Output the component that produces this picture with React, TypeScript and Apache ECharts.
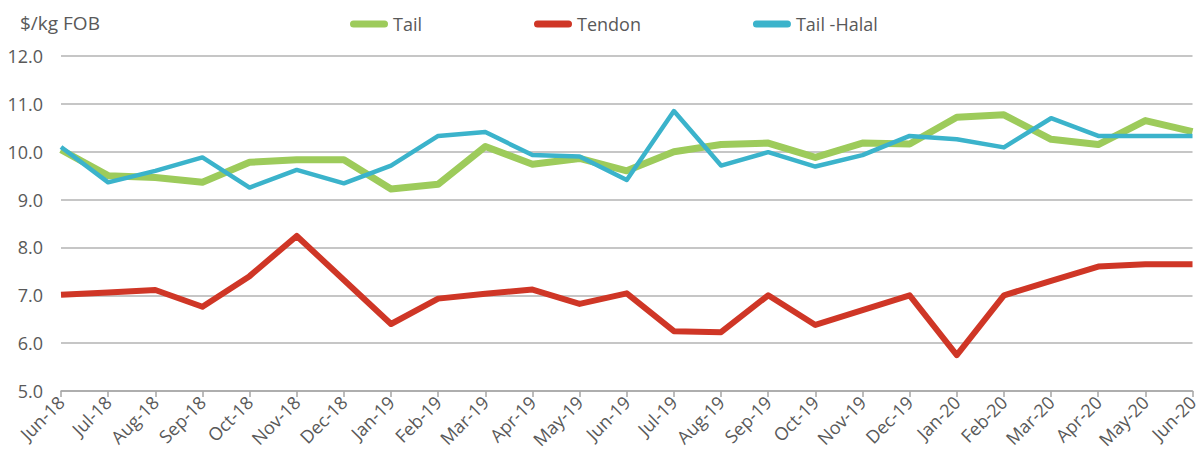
import React, { useEffect, useRef } from "react";
import * as echarts from "echarts";

const categories = [
  "Jun-18", "Jul-18", "Aug-18", "Sep-18", "Oct-18", "Nov-18", "Dec-18",
  "Jan-19", "Feb-19", "Mar-19", "Apr-19", "May-19", "Jun-19", "Jul-19",
  "Aug-19", "Sep-19", "Oct-19", "Nov-19", "Dec-19", "Jan-20", "Feb-20",
  "Mar-20", "Apr-20", "May-20", "Jun-20",
];

const tail = [
  10.04, 9.5, 9.46, 9.36, 9.78, 9.83, 9.83, 9.22, 9.32, 10.11, 9.74, 9.86,
  9.6, 10.0, 10.15, 10.18, 9.88, 10.18, 10.16, 10.72, 10.77, 10.26, 10.15,
  10.65, 10.42,
];

const tendon = [
  7.01, 7.06, 7.11, 6.76, 7.4, 8.24, 7.32, 6.4, 6.93, 7.03, 7.12, 6.82,
  7.04, 6.25, 6.23, 7.0, 6.38, 6.69, 7.0, 5.75, 7.0, 7.3, 7.6, 7.65, 7.65,
];

const tailHalal = [
  10.1, 9.36, 9.6, 9.88, 9.25, 9.62, 9.34, 9.71, 10.33, 10.41, 9.93, 9.9,
  9.41, 10.85, 9.71, 9.99, 9.69, 9.93, 10.33, 10.26, 10.09, 10.7, 10.33,
  10.33, 10.33,
];

const seriesNames = ["Tail", "Tendon", "Tail -Halal"];
const colors = ["#9dcb5b", "#cf3626", "#3bb3cb"];
const widths = [7, 6, 4.5];

const FONT = "'Open Sans', sans-serif";
const TEXT = "#595959";

export default function App() {
  const ref = useRef<HTMLDivElement>(null);

  useEffect(() => {
    if (!ref.current) return;
    const chart = echarts.init(ref.current, undefined, { renderer: "svg" });
    const data = [tail, tendon, tailHalal];
    chart.setOption({
      animation: false,
      backgroundColor: "#ffffff",
      textStyle: { fontFamily: FONT },
      title: {
        text: "$/kg FOB",
        left: 15,
        top: 8,
        textStyle: { fontFamily: FONT, fontSize: 19, fontWeight: "normal", color: TEXT },
      },
      legend: {
        left: 345,
        top: 10,
        itemGap: 112,
        itemWidth: 38,
        itemHeight: 7,
        icon: "path://M3.5,0H34.5A3.5,3.5,0,0,1,34.5,7H3.5A3.5,3.5,0,0,1,3.5,0Z",
        textStyle: { fontFamily: FONT, fontSize: 18, color: TEXT },
        data: seriesNames,
      },
      grid: { left: 61, right: 4, top: 56, bottom: 68, containLabel: false },
      xAxis: {
        type: "category",
        data: categories,
        boundaryGap: false,
        axisLine: { lineStyle: { color: "#a6a6a6", width: 1.5 } },
        axisTick: { show: true, length: 6, lineStyle: { color: "#a6a6a6", width: 1.5 } },
        axisLabel: {
          rotate: 45,
          interval: 0,
          margin: 8,
          fontFamily: FONT,
          fontSize: 18,
          color: TEXT,
        },
        splitLine: { show: false },
      },
      yAxis: {
        type: "value",
        min: 5,
        max: 12,
        interval: 1,
        axisLine: { show: false },
        axisTick: { show: false },
        axisLabel: {
          margin: 18,
          fontFamily: FONT,
          fontSize: 18,
          color: TEXT,
          formatter: (v: number) => v.toFixed(1),
        },
        splitLine: { lineStyle: { color: "#b3b3b3", width: 1.5 } },
      },
      series: seriesNames.map((name, i) => ({
        name,
        type: "line",
        data: data[i],
        symbol: "none",
        lineStyle: { color: colors[i], width: widths[i], join: "round" },
        itemStyle: { color: colors[i] },
        z: 2 + i,
      })),
    });
    return () => chart.dispose();
  }, []);

  return (
    <div
      ref={ref}
      style={{ position: "absolute", left: 0, top: 0, width: 1201, height: 459 }}
    />
  );
}
